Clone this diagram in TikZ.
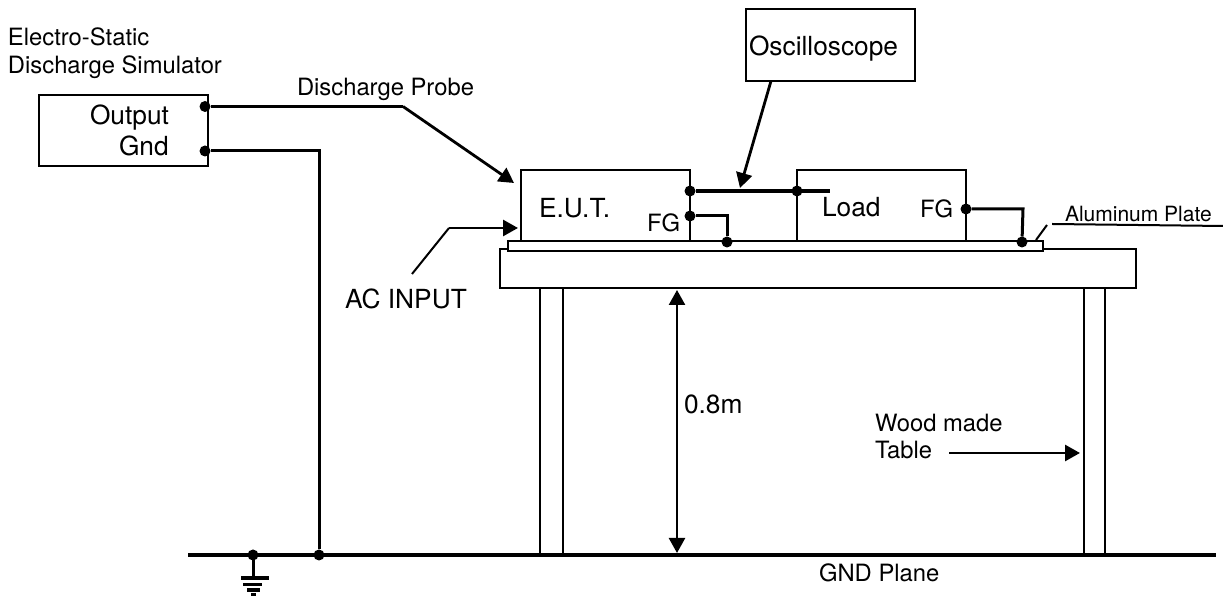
\documentclass[tikz,border=0pt]{standalone}
\usepackage{fontspec}
\setmainfont{TeX Gyre Heros}
\usetikzlibrary{arrows.meta}
\tikzset{
  boxnode/.style={draw,line width=2pt,inner sep=0pt,outer sep=0pt,anchor=north west},
  lbl/.style={inner sep=0pt,outer sep=0pt,anchor=base west,font=\fontsize{26.3}{30}\selectfont},
  smalllbl/.style={inner sep=0pt,outer sep=0pt,anchor=base west,font=\fontsize{23.8}{28}\selectfont},
  tinylbl/.style={inner sep=0pt,outer sep=0pt,anchor=base west,font=\fontsize{21}{24}\selectfont},
  dot/.style={circle,fill=black,inner sep=0pt,outer sep=0pt,minimum size=11pt},
  wire/.style={line width=3pt},
  thinwire/.style={line width=2pt},
  thickwire/.style={line width=3.6pt},
  bar/.style={line width=3.2pt},
  lead/.style={line width=2.8pt,-{Triangle[length=15pt,width=16pt]}},
}
\begin{document}
\begin{tikzpicture}[x=1pt,y=1pt]
\path[use as bounding box,fill=white] (0,0) rectangle (1223,596);
% table and plate
\node[boxnode,minimum width=636pt,minimum height=39pt] (table) at (500,347) {};
\node[boxnode,fill=white,minimum width=535pt,minimum height=10.5pt] (plate) at (508,355) {};
\node[boxnode,minimum width=23pt,minimum height=267pt] (legA) at (540,308) {};
\node[boxnode,minimum width=21pt,minimum height=267pt] (legB) at (1083.5,308) {};
% boxes
\node[boxnode,minimum width=169pt,minimum height=71pt] (sim) at (39,501) {};
\node[boxnode,minimum width=169pt,minimum height=71pt] (eut) at (521,426) {};
\node[boxnode,minimum width=169pt,minimum height=71pt] (load) at (797,426) {};
\node[boxnode,minimum width=169pt,minimum height=72pt] (osc) at (746,587) {};
% dots
\node[dot] (simOut) at (205,489.5) {};
\node[dot] (simGnd) at (205,445) {};
\node[dot] (busA) at (690,405) {};
\node[dot] (busB) at (797,405) {};
\node[dot] (fgA) at (690,380) {};
\node[dot] (fgAp) at (727,354) {};
\node[dot] (fgB) at (966,387) {};
\node[dot] (fgBp) at (1022,354) {};
\node[dot] (gndA) at (253,41) {};
\node[dot] (gndB) at (319,41) {};
\coordinate (busEnd) at (830,405);
\coordinate (gndL) at (188,41);
\coordinate (gndR) at (1216,41);
\coordinate (probeBend) at (403,489.5);
\coordinate (probeTip) at (514,413);
\coordinate (gndStem) at (253,19);
\coordinate (oscStart) at (771,515);
\coordinate (oscTip) at (740,408);
\coordinate (acStart) at (412,322);
\coordinate (acBend) at (449,368);
\coordinate (acTip) at (518,368);
\coordinate (heightTop) at (677,306);
\coordinate (heightBot) at (677,43);
\coordinate (woodStart) at (949,143);
\coordinate (woodTip) at (1080,143);
\coordinate (alA) at (1036,356);
\coordinate (alB) at (1047,371);
\coordinate (alC) at (1052,372);
\coordinate (alD) at (1223,370);
% wires
\draw[wire] (simOut) -- (probeBend);
\draw[lead] (probeBend) -- (probeTip);
\draw[wire] (simGnd) -| (gndB);
\draw[bar] (gndL) -- (gndR);
\draw[wire] (gndA) -- (gndStem);
\draw[bar] (241,18) -- (269,18);
\draw[bar] (243,11.5) -- (262,11.5);
\draw[bar] (247,6) -- (260,6);
\draw[bar] (251,1) -- (256,1);
\draw[thickwire] (busA) -- (busEnd);
\draw[lead] (oscStart) -- (oscTip);
\draw[wire] (fgA) -| (fgAp);
\draw[wire] (fgB) -- (1023,387) -- (fgBp);
\draw[thinwire] (acStart) -- (acBend);
\draw[lead] (acBend) -- (acTip);
\draw[line width=2.4pt,{Triangle[length=15pt,width=16pt]}-{Triangle[length=15pt,width=16pt]}] (heightTop) -- (heightBot);
\draw[lead] (woodStart) -- (woodTip);
\draw[thinwire] (alA) -- (alB);
\draw[thinwire] (alC) -- (alD);
% labels
\node[smalllbl] (simA) at (8,550) {Electro-Static};
\node[smalllbl] (simB) at (8,522) {Discharge Simulator};
\node[lbl] (outLbl) at (90,471) {Output};
\node[lbl] (gndLbl) at (119,440) {Gnd};
\node[smalllbl] (probeLbl) at (297,500) {Discharge Probe};
\node[lbl] (oscLbl) at (749,540) {Oscilloscope};
\node[lbl] (eutLbl) at (539,378) {E.U.T.};
\node[smalllbl] (fgLblA) at (647,364) {FG};
\node[lbl] (loadLbl) at (822,379) {Load};
\node[smalllbl] (fgLblB) at (920,378) {FG};
\node[tinylbl] (alLbl) at (1065,374) {Aluminum Plate};
\node[lbl] (acLbl) at (345,287) {AC INPUT};
\node[lbl] (hLbl) at (684,182) {0.8m};
\node[smalllbl] (woodA) at (875,164) {Wood made};
\node[smalllbl] (woodB) at (875,137) {Table};
\node[smalllbl] (planeLbl) at (819,14) {GND Plane};
\end{tikzpicture}
\end{document}
